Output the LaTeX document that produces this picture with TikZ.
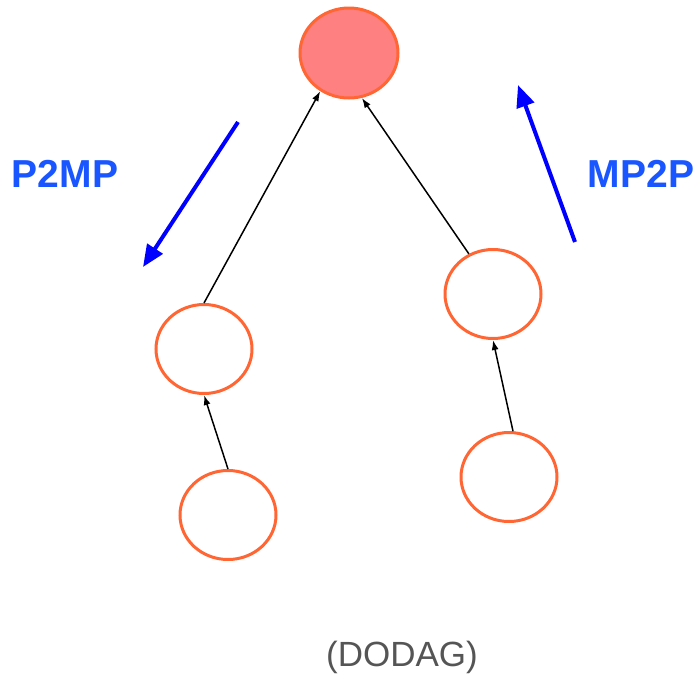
\documentclass[tikz,border=0pt]{standalone}
\usepackage{fontspec}
\setmainfont{Liberation Sans}
\usepackage{xcolor}
\usetikzlibrary{arrows.meta, shapes.geometric}
\definecolor{nodeline}{HTML}{FF6633}
\definecolor{rootfill}{HTML}{FF8080}
\definecolor{flowblue}{HTML}{0000FF}
\definecolor{labelblue}{HTML}{1A56FF}
\definecolor{captiongray}{HTML}{555555}

\begin{document}
\begin{tikzpicture}[x=1pt, y=-1pt,
      every node/.style={ellipse, draw=nodeline, line width=3pt, minimum width=96pt, minimum height=89pt, inner sep=0pt},
      edge/.style={-{Latex[length=10pt,width=7pt]}, line width=1.5pt, black},
      flow/.style={-{Triangle[length=22pt,width=18pt]}, line width=4pt, draw=flowblue},
      label_text/.style={draw=none, rectangle, minimum size=0pt, inner sep=0pt, font=\fontsize{39}{39}\selectfont\bfseries, text=labelblue}
  ]
      \useasboundingbox (0,0) rectangle (699,678);

      % DODAG nodes
      \node[fill=rootfill, minimum width=98pt, minimum height=90pt] (root) at (349,53) {};
      \node (lm) at (204,349) {};
      \node (lb) at (228,515) {};
      \node (rm) at (493,294) {};
      \node (rb) at (509,477) {};

      % links towards the root
      \draw[edge] (lm.north) -- (root.233);
      \draw[edge] (rm.121) -- (root.286);
      \draw[edge] (lb.north) -- (lm.south);
      \draw[edge] (rb.85) -- (rm.south);

      % traffic directions
      \coordinate (p2mpS) at (238,122);
      \coordinate (p2mpE) at (143,267);
      \coordinate (mp2pS) at (575,242);
      \coordinate (mp2pE) at (518,85);
      \draw[flow] (p2mpS) -- (p2mpE);
      \draw[flow] (mp2pS) -- (mp2pE);

      \node[label_text] (p2mp) at (65,174) {P2MP};
      \node[label_text] (mp2p) at (641,174) {MP2P};
      \node[label_text, font=\fontsize{35}{35}\selectfont, text=captiongray] (dodag) at (402,657) {(DODAG)};
  \end{tikzpicture}
\end{document}
